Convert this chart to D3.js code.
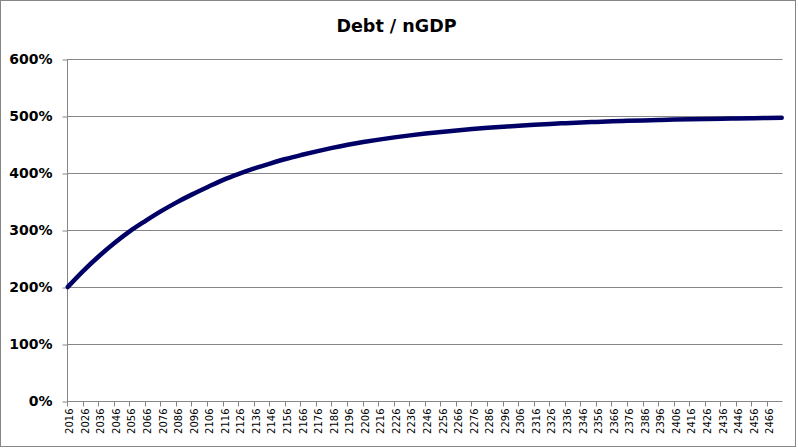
<!DOCTYPE html>
<html>
<head>
<meta charset="utf-8">
<script src="https://cdn.jsdelivr.net/npm/d3@7"></script>
<style>
html,body{margin:0;padding:0;background:#fff;}
svg{display:block;}
</style>
</head>
<body>
<svg id="chart" width="798" height="448"></svg>
<script>
// ---- data ----
const years = [2016,2026,2036,2046,2056,2066,2076,2086,2096,2106,2116,2126,2136,2146,2156,2166,2176,2186,2196,2206,2216,2226,2236,2246,2256,2266,2276,2286,2296,2306,2316,2326,2336,2346,2356,2366,2376,2386,2396,2406,2416,2426,2436,2446,2456,2466,2475];
const debtToGdp = [200,228.3,253.9,277.1,298,316,333,348.5,362.5,375.5,388,398.5,408,416.5,424.5,431.5,438,444,449.5,454.3,458.6,462.5,466.0,469.2,472.1,474.7,477.1,479.3,481.2,483.0,484.6,486.1,487.4,488.6,489.6,490.6,491.5,492.3,493.0,493.7,494.3,494.8,495.3,495.7,496.1,496.5,496.8];
const xTickLabels = [2016,2026,2036,2046,2056,2066,2076,2086,2096,2106,2116,2126,2136,2146,2156,2166,2176,2186,2196,2206,2216,2226,2236,2246,2256,2266,2276,2286,2296,2306,2316,2326,2336,2346,2356,2366,2376,2386,2396,2406,2416,2426,2436,2446,2456,2466];
const yTicks = [0,100,200,300,400,500,600];
const firstYear = 2016, lastYear = 2475;
const chartTitle = "Debt / nGDP";

// ---- layout ----
const svg = d3.select("#chart");
const plotLeft = 67, plotRight = 782.5, plotTop = 59, plotBottom = 401;
const grey = "#868686";

svg.append("rect").attr("x",0.5).attr("y",0.5).attr("width",795).attr("height",446)
  .attr("fill","#fff").attr("stroke",grey).attr("stroke-width",1);

const x = d3.scaleLinear().domain([firstYear-0.5, lastYear+0.5]).range([plotLeft, plotRight]);
const y = d3.scaleLinear().domain([0,600]).range([plotBottom, plotTop]);

// gridlines
svg.append("g").selectAll("line").data(yTicks.filter(d=>d>0)).join("line")
  .attr("x1",plotLeft).attr("x2",plotRight)
  .attr("y1",d=>Math.round(y(d))+0.5).attr("y2",d=>Math.round(y(d))+0.5)
  .attr("stroke",grey).attr("stroke-width",1);

// y axis
const yAxis = d3.axisLeft(y).tickValues(yTicks).tickSize(5).tickPadding(10)
  .tickFormat(d=>d+"%");
const gy = svg.append("g").attr("transform",`translate(${plotLeft+0.5},0.5)`).call(yAxis);
gy.selectAll("path,line").attr("stroke",grey);
gy.select(".domain").attr("d",`M0,${y(600)}V${y(0)}`);
gy.selectAll("text").attr("font-family","DejaVu Sans").attr("font-weight","bold")
  .attr("font-size","14px").attr("fill","#000");

// x axis: tick marks at category boundaries
const gx = svg.append("g").attr("transform",`translate(0,${plotBottom+0.5})`);
gx.append("line").attr("x1",plotLeft).attr("x2",plotRight).attr("y1",0).attr("y2",0).attr("stroke",grey);
gx.selectAll("line.tk").data(xTickLabels).join("line").attr("class","tk")
  .attr("x1",d=>Math.round(x(d-0.5))+0.5).attr("x2",d=>Math.round(x(d-0.5))+0.5)
  .attr("y1",0).attr("y2",5).attr("stroke",grey);
gx.selectAll("text").data(xTickLabels).join("text")
  .attr("transform",d=>`translate(${x(d)+5.5},7) rotate(-90)`)
  .attr("text-anchor","end")
  .attr("font-family","DejaVu Sans").attr("font-size","10px").attr("fill","#000")
  .text(d=>d);

// line
const line = d3.line().x((d,i)=>x(years[i])).y(d=>y(d)).curve(d3.curveMonotoneX);
svg.append("path").datum(debtToGdp).attr("d",line)
  .attr("fill","none").attr("stroke","#000066").attr("stroke-width",4.5)
  .attr("stroke-linecap","round").attr("stroke-linejoin","round");

// title
svg.append("text").attr("x",396.5).attr("y",32).attr("text-anchor","middle")
  .attr("font-family","DejaVu Sans").attr("font-weight","bold").attr("font-size","17.5px")
  .attr("fill","#000").text(chartTitle);
</script>
</body>
</html>
